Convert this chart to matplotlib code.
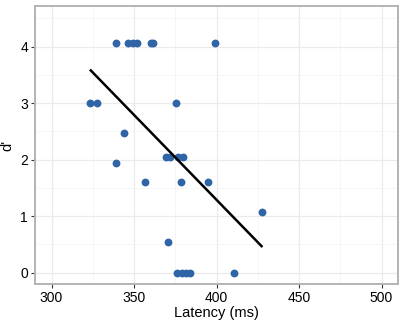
import numpy as np
import matplotlib
matplotlib.use('Agg')
from matplotlib import pyplot as plt
from matplotlib.ticker import MultipleLocator

plt.rcParams['font.family'] = ['Liberation Sans', 'DejaVu Sans']

latency = [338.8, 346.4, 349.4, 351.8, 360.1, 361.5, 398.8,
           323.2, 327.6, 375.4,
           343.8,
           369.2, 371.6, 376.6, 379.6,
           338.9,
           356.7, 378.6, 394.7,
           427.6,
           370.6,
           376.0, 379.2, 381.7, 384.1, 410.4]
dprime = [4.07, 4.07, 4.07, 4.07, 4.07, 4.07, 4.07,
          3.0, 3.0, 3.0,
          2.47,
          2.04, 2.04, 2.04, 2.04,
          1.94,
          1.61, 1.61, 1.61,
          1.08,
          0.55,
          0.0, 0.0, 0.0, 0.0, 0.0]

# linear trend (ends)
trend_latency = [323.8, 427.3]
trend_dprime = [3.58, 0.47]

W, H = 403, 329
fig = plt.figure(figsize=(W / 100, H / 100), dpi=100)
ax = fig.add_axes([35 / W, (H - 284) / H, (398 - 35) / W, (284 - 6) / H])

ax.scatter(latency, dprime, s=32, color='#2f65a7', zorder=3, linewidths=0)
ax.plot(trend_latency, trend_dprime, color='black', lw=1.8, zorder=4)

ax.set_xlim(290, 510)
ax.set_ylim(-0.2, 4.72)
ax.xaxis.set_major_locator(MultipleLocator(50))
ax.xaxis.set_minor_locator(MultipleLocator(25))
ax.yaxis.set_major_locator(MultipleLocator(1))
ax.yaxis.set_minor_locator(MultipleLocator(0.5))
ax.set_yticks([0, 1, 2, 3, 4])

ax.grid(which='major', color='#ebebeb', lw=0.9)
ax.grid(which='minor', color='#f5f5f5', lw=0.6)
ax.set_axisbelow(True)
for s in ax.spines.values():
    s.set_color('#b3b3b3')
    s.set_linewidth(1.4)
ax.tick_params(which='major', length=3, width=0.8, color='#333333',
               labelsize=10, labelcolor='black', pad=2)
ax.tick_params(which='minor', length=0)

ax.set_xlabel('Latency (ms)', fontsize=10.5, labelpad=1)
ax.set_ylabel("d'", fontsize=10.5, labelpad=4)

fig.savefig('out.png', dpi=100)
